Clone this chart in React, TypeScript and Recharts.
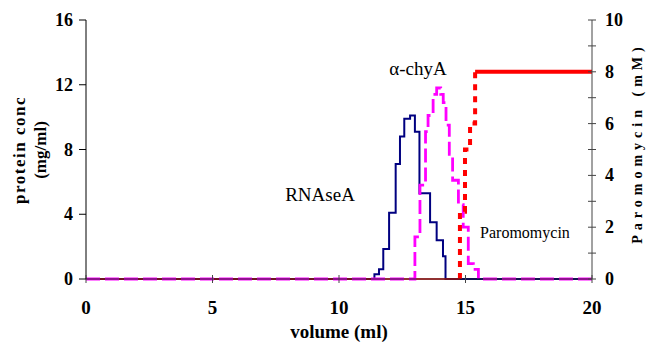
import React from 'react';
import { LineChart, Line, XAxis, YAxis, ReferenceDot, Label } from 'recharts';

const volumeTicks = [0, 5, 10, 15, 20];
const proteinTicks = [0, 4, 8, 12, 16];
const paromomycinTicks = [0, 1, 2, 3, 4, 5, 6, 7, 8, 9, 10];

const rnaseVolume = [0, 11.4, 11.58, 11.75, 11.98, 12.24, 12.41, 12.58, 12.81, 13.0, 13.18, 13.6, 13.86, 14.11, 14.21, 20];
const rnaseConc = [0, 0.3, 0.6, 1.85, 4.1, 7.1, 8.8, 9.9, 10.1, 9.1, 5.3, 3.5, 2.4, 1.4, 0, 0];

const chyVolume = [0, 13.0, 13.2, 13.42, 13.52, 13.72, 13.86, 14.02, 14.12, 14.23, 14.36, 14.49, 14.72, 14.91, 15.11, 15.31, 15.51, 20];
const chyConc = [0, 2.6, 5.8, 9.1, 10.1, 11.4, 11.8, 11.4, 10.9, 9.5, 7.7, 6.1, 4.6, 3.2, 0.95, 0.6, 0, 0];

const paroVolume = [0, 14.78, 14.98, 15.18, 15.38, 20];
const paroConc = [0, 2.6, 5.0, 6.0, 8.0, 8.0];

const FONT = "'Liberation Serif', 'Times New Roman', serif";

const toPoints = (xs: number[], ys: number[]) => xs.map((x, i) => ({ x, y: ys[i] }));

const rnaseData = toPoints(rnaseVolume, rnaseConc);
const chyData = toPoints(chyVolume, chyConc);
const paroPoints = toPoints(paroVolume, paroConc);
const firstRise = paroPoints.findIndex((p) => p.y > 0);
const paroMax = Math.max(...paroConc);
const firstTop = paroPoints.findIndex((p) => p.y === paroMax);
const paroBase = [
  { x: paroPoints[0].x, y: 0 },
  { x: paroPoints[firstRise].x, y: 0 },
];
const paroRise = [{ x: paroPoints[firstRise].x, y: 0 }, ...paroPoints.slice(firstRise, firstTop + 1)];
const paroTop = paroPoints.slice(firstTop);

const LeftTick = (props: any) => {
  const { x, y, payload } = props;
  return (
    <g>
      <line x1={x - 7} x2={x} y1={y} y2={y} stroke="#000" strokeWidth={1} />
      <text x={x - 13} y={y} dy={6} textAnchor="end" fontSize={18} fontWeight="bold" fontFamily={FONT} fill="#000">
        {payload.value}
      </text>
    </g>
  );
};

const RightTick = (props: any) => {
  const { x, y, payload } = props;
  const showLabel = payload.value % 2 === 0;
  return (
    <g>
      <line x1={x - 4} x2={x + 4} y1={y} y2={y} stroke="#444" strokeWidth={1} />
      {showLabel && (
        <text x={x + 13} y={y} dy={6} textAnchor="start" fontSize={18} fontWeight="bold" fontFamily={FONT} fill="#000">
          {payload.value}
        </text>
      )}
    </g>
  );
};

const BottomTick = (props: any) => {
  const { x, y, payload } = props;
  return (
    <g>
      <line x1={x} x2={x} y1={y - 4} y2={y + 4} stroke="#444" strokeWidth={1} />
      <text x={x} y={y + 35} textAnchor="middle" fontSize={19} fontWeight="bold" fontFamily={FONT} fill="#000">
        {payload.value}
      </text>
    </g>
  );
};

const annotations = [
  { text: 'α-chyA', x: 13.12, y: 13.0, size: 19 },
  { text: 'RNAseA', x: 9.25, y: 5.25, size: 19 },
  { text: 'Paromomycin', x: 17.35, y: 2.9, size: 16 },
];

export default function App() {
  return (
    <div style={{ position: 'absolute', left: 0, top: 0, width: 648, height: 342, background: '#fff' }}>
      <LineChart width={648} height={342} margin={{ top: 20, right: 0, bottom: 0, left: 0 }}>
        <XAxis
          dataKey="x"
          type="number"
          domain={[0, 20]}
          ticks={volumeTicks}
          allowDataOverflow
          height={63}
          tickSize={0}
          tickMargin={0}
          tickLine={false}
          axisLine={{ stroke: '#222' }}
          tick={<BottomTick />}
        >
          <Label
            content={() => (
              <text x={339} y={338} textAnchor="middle" fontSize={19} fontWeight="bold" fontFamily={FONT} fill="#000">
                volume (ml)
              </text>
            )}
          />
        </XAxis>
        <YAxis
          yAxisId="left"
          orientation="left"
          type="number"
          domain={[0, 16]}
          ticks={proteinTicks}
          width={86}
          tickSize={0}
          tickMargin={0}
          tickLine={false}
          axisLine={{ stroke: '#000' }}
          tick={<LeftTick />}
        >
          <Label
            content={() => (
              <g>
                <text
                  x={19}
                  y={150}
                  transform="rotate(-90, 19, 150)"
                  textAnchor="middle"
                  dominantBaseline="central"
                  fontSize={17}
                  fontWeight="bold"
                  letterSpacing={1.5}
                  fontFamily={FONT}
                  fill="#000"
                >
                  protein conc
                </text>
                <text
                  x={40}
                  y={150}
                  transform="rotate(-90, 40, 150)"
                  textAnchor="middle"
                  dominantBaseline="central"
                  fontSize={17}
                  fontWeight="bold"
                  fontFamily={FONT}
                  fill="#000"
                >
                  (mg/ml)
                </text>
              </g>
            )}
          />
        </YAxis>
        <YAxis
          yAxisId="right"
          orientation="right"
          type="number"
          domain={[0, 10]}
          ticks={paromomycinTicks}
          width={56}
          tickSize={0}
          tickMargin={0}
          tickLine={false}
          axisLine={{ stroke: '#444' }}
          tick={<RightTick />}
        >
          <Label
            content={() => (
              <text
                x={637}
                y={143}
                transform="rotate(-90, 637, 143)"
                textAnchor="middle"
                dominantBaseline="central"
                fontSize={14}
                fontWeight="bold"
                letterSpacing={5}
                fontFamily={FONT}
                fill="#000"
              >
                Paromomycin (mM)
              </text>
            )}
          />
        </YAxis>

        <Line
          yAxisId="left"
          data={rnaseData}
          dataKey="y"
          type="stepAfter"
          stroke="#000080"
          strokeWidth={2}
          dot={false}
          activeDot={false}
          isAnimationActive={false}
        />
        <Line
          yAxisId="right"
          data={paroBase}
          dataKey="y"
          type="stepAfter"
          stroke="#ff0000"
          strokeWidth={1.5}
          dot={false}
          activeDot={false}
          isAnimationActive={false}
        />
        <Line
          yAxisId="left"
          data={chyData}
          dataKey="y"
          type="stepAfter"
          stroke="#ff00ff"
          strokeWidth={2.8}
          strokeDasharray="14 5"
          dot={false}
          activeDot={false}
          isAnimationActive={false}
        />
        <Line
          yAxisId="right"
          data={paroRise}
          dataKey="y"
          type="stepAfter"
          stroke="#ff0000"
          strokeWidth={4}
          strokeDasharray="6 6"
          dot={false}
          activeDot={false}
          isAnimationActive={false}
        />
        <Line
          yAxisId="right"
          data={paroTop}
          dataKey="y"
          type="stepAfter"
          stroke="#ff0000"
          strokeWidth={4}
          dot={false}
          activeDot={false}
          isAnimationActive={false}
        />

        {annotations.map((a) => (
          <ReferenceDot
            key={a.text}
            yAxisId="left"
            x={a.x}
            y={a.y}
            r={1}
            fill="none"
            stroke="none"
            label={{ value: a.text, position: 'center', fontSize: a.size, fontFamily: FONT, fill: '#000' }}
          />
        ))}
      </LineChart>
    </div>
  );
}
